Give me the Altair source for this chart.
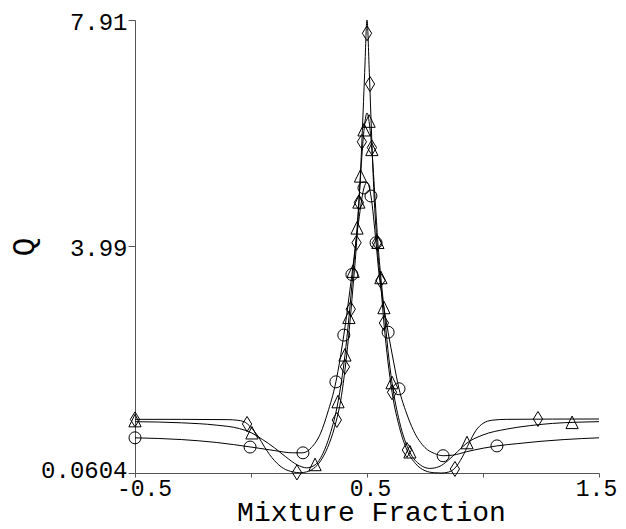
import altair as alt
import pandas as pd

# ---- curve data ----
diamond_x = [-0.5, -0.3, -0.1, -0.06, -0.03, 0.0, 0.03, 0.06, 0.1, 0.14, 0.18, 0.21, 0.24, 0.27, 0.3,
             0.33, 0.36, 0.39, 0.42, 0.44, 0.455, 0.47, 0.48, 0.49, 0.5, 0.51, 0.52, 0.53, 0.543, 0.56,
             0.573, 0.59, 0.608, 0.64, 0.672, 0.71, 0.75, 0.79, 0.82, 0.85, 0.88, 0.91, 0.94, 0.97, 1.0,
             1.04, 1.1, 1.3, 1.5]
diamond_y = [0.99, 0.99, 0.985, 0.975, 0.95, 0.85, 0.7, 0.5, 0.28, 0.14, 0.08, 0.065, 0.08, 0.14, 0.27,
             0.5, 0.85, 1.4, 2.4, 3.3, 4.05, 5.1, 6.0, 7.0, 7.91, 7.0, 5.9, 4.9, 4.05, 3.3,
             2.66, 2.0, 1.46, 0.85, 0.46, 0.22, 0.1, 0.065, 0.06, 0.075, 0.15, 0.33, 0.58, 0.8, 0.92,
             0.975, 0.99, 0.995, 0.996]

triangle_x = [-0.5, -0.3, -0.15, -0.05, 0.0, 0.05, 0.1, 0.15, 0.2, 0.24, 0.276, 0.31, 0.34, 0.375, 0.405,
              0.422, 0.44, 0.457, 0.472, 0.487, 0.5, 0.509, 0.521, 0.535, 0.547, 0.56, 0.573, 0.59, 0.608,
              0.64, 0.685, 0.73, 0.77, 0.81, 0.85, 0.89, 0.931, 1.0, 1.1, 1.2, 1.3, 1.4, 1.5]
triangle_y = [0.95, 0.93, 0.89, 0.83, 0.76, 0.64, 0.5, 0.34, 0.2, 0.15, 0.2, 0.4, 0.72, 1.29, 2.1,
              2.75, 3.55, 4.3, 5.2, 6.0, 6.3, 6.15, 5.66, 4.8, 4.05, 3.44, 2.92, 2.2, 1.62,
              0.95, 0.42, 0.2, 0.14, 0.17, 0.28, 0.43, 0.58, 0.72, 0.82, 0.88, 0.92, 0.94, 0.95]

circle_x = [-0.5, -0.3, -0.15, 0.0, 0.1, 0.18, 0.224, 0.26, 0.3, 0.33, 0.366, 0.40, 0.435, 0.46, 0.487,
            0.5, 0.517, 0.539, 0.552, 0.57, 0.591, 0.615, 0.638, 0.67, 0.7, 0.75, 0.79, 0.828, 0.87,
            0.93, 1.0, 1.06, 1.15, 1.25, 1.35, 1.5]
circle_y = [0.67, 0.64, 0.59, 0.51, 0.45, 0.41, 0.41, 0.5, 0.75, 1.1, 1.64, 2.45, 3.5, 4.3, 5.0,
            5.1, 4.86, 4.05, 3.5, 3.0, 2.5, 1.98, 1.52, 1.1, 0.8, 0.5, 0.4, 0.36, 0.37,
            0.43, 0.49, 0.53, 0.57, 0.61, 0.64, 0.67]

# ---- marker data ----
diamond_mx = [-0.5, -0.017, 0.198, 0.37, 0.405, 0.43, 0.455, 0.465, 0.478, 0.5, 0.513, 0.521, 0.543,
              0.558, 0.573, 0.608, 0.672, 0.879, 1.237]
diamond_my = [0.99, 0.91, 0.07, 0.98, 1.9, 2.9, 4.05, 4.75, 5.8, 7.68, 6.8, 5.7, 4.05,
              3.4, 2.66, 1.46, 0.46, 0.13, 0.996]

triangle_mx = [-0.5, 0.004, 0.276, 0.375, 0.405, 0.422, 0.44, 0.457, 0.465, 0.472, 0.487, 0.509, 0.521,
               0.547, 0.56, 0.573, 0.608, 0.685, 0.931, 1.384]
triangle_my = [0.96, 0.75, 0.2, 1.29, 2.1, 2.75, 3.55, 4.3, 4.75, 5.2, 6.0, 6.15, 5.66,
               4.05, 3.44, 2.92, 1.62, 0.42, 0.58, 0.93]

circle_mx = [-0.5, -0.004, 0.224, 0.366, 0.40, 0.435, 0.487, 0.517, 0.539, 0.591, 0.638, 0.828, 1.06]
circle_my = [0.67, 0.51, 0.41, 1.64, 2.45, 3.5, 5.0, 4.86, 4.05, 2.5, 1.52, 0.36, 0.53]

series_names = ["diamond", "triangle", "circle"]

x_tick_values = [-0.5, 0, 0.5, 1, 1.5]
x_tick_labels = ["-0.5", "", "0.5", "", "1.5"]
y_tick_values = [0.0604, 3.99, 7.91]
y_tick_labels = ["0.0604", "3.99", "7.91"]

# ---- build tables ----
curves = {"diamond": (diamond_x, diamond_y), "triangle": (triangle_x, triangle_y),
          "circle": (circle_x, circle_y)}
markers = {"diamond": (diamond_mx, diamond_my), "triangle": (triangle_mx, triangle_my),
           "circle": (circle_mx, circle_my)}

line_rows = []
for name in series_names:
    xs, ys = curves[name]
    for i, (xv, yv) in enumerate(zip(xs, ys)):
        line_rows.append({"series": name, "order": i, "x": xv, "y": yv})
line_df = pd.DataFrame(line_rows)

mark_rows = []
for name in series_names:
    xs, ys = markers[name]
    for xv, yv in zip(xs, ys):
        mark_rows.append({"series": name, "x": xv, "y": yv})
mark_df = pd.DataFrame(mark_rows)


def label_expr(values, labels):
    parts = [f"abs(datum.value - ({v})) < 1e-9 ? '{l}'" for v, l in zip(values, labels)]
    return " : ".join(parts) + " : ''"


FONT = "Liberation Mono"
AX = "#555555"

x_scale = alt.Scale(domain=[-0.5, 1.5], nice=False, zero=False)
y_scale = alt.Scale(domain=[0.0604, 7.91], nice=False, zero=False)

x_label_offset = {"condition": [{"test": "datum.value < 0", "value": 9},
                                {"test": "datum.value > 1.2", "value": -3}],
                  "value": 3}
y_label_offset = {"condition": {"test": "datum.value < 1", "value": -3}, "value": 2}

x_axis = alt.Axis(values=x_tick_values, labelExpr=label_expr(x_tick_values, x_tick_labels),
                  labelFlush=False, labelOverlap=False, tickSize=4, labelPadding=0,
                  labelOffset=x_label_offset,
                  labelFont=FONT, labelFontSize=23, labelColor="black",
                  title="Mixture Fraction", titleFont=FONT, titleFontSize=28,
                  titleFontWeight="normal", titleColor="black", titleY=47, titleX=236,
                  titleBaseline="alphabetic", domainColor=AX, tickColor=AX, grid=False)
y_axis = alt.Axis(values=y_tick_values, labelExpr=label_expr(y_tick_values, y_tick_labels),
                  labelOverlap=False, labelFlush=False, tickSize=7, labelPadding=1,
                  labelOffset=y_label_offset,
                  labelFont=FONT, labelFontSize=24, labelColor="black",
                  title="Q", titleFont=FONT, titleFontSize=31, titleFontWeight="normal",
                  titleColor="black", titleX=-111, titleY=226.5, titleAngle=270,
                  titleAlign="center", titleBaseline="middle",
                  domainColor=AX, tickColor=AX, grid=False)

lines = alt.Chart(line_df).mark_line(color="black", strokeWidth=1, interpolate="monotone").encode(
    x=alt.X("x:Q", scale=x_scale, axis=x_axis),
    y=alt.Y("y:Q", scale=y_scale, axis=y_axis),
    detail="series:N",
    order="order:Q",
)

shape_range = ["M0,-1L0.62,0L0,1L-0.62,0Z", "M0,-1L0.9,0.85L-0.9,0.85Z", "circle"]

points = alt.Chart(mark_df).mark_point(filled=False, color="black", strokeWidth=1, opacity=1).encode(
    x=alt.X("x:Q", scale=x_scale),
    y=alt.Y("y:Q", scale=y_scale),
    shape=alt.Shape("series:N", scale=alt.Scale(domain=series_names, range=shape_range), legend=None),
    size=alt.Size("series:N", scale=alt.Scale(domain=series_names, range=[225, 144, 144]), legend=None),
)

chart = alt.layer(lines, points).properties(
    width=464, height=453,
    autosize=alt.AutoSizeParams(type="none"),
    padding={"left": 127, "top": 12, "right": 19, "bottom": 48},
    background="white",
).configure_view(stroke=None)

chart.save("out.html", embed_options={"renderer": "svg", "actions": False})
